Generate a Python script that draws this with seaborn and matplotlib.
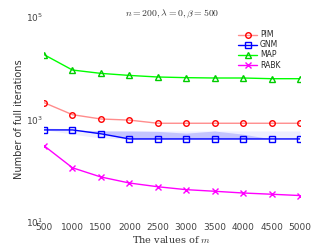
import pandas as pd
import numpy as np
import matplotlib
matplotlib.use('Agg')
import matplotlib.pyplot as plt
import seaborn as sns

# DATA #
m_values = [500, 1000, 1500, 2000, 2500, 3000, 3500, 4000, 4500, 5000]
pim = [2150, 1250, 1030, 980, 850, 850, 850, 850, 850, 850]
gnm = [630, 630, 530, 420, 420, 420, 420, 420, 420, 420]
map_ = [18600, 9300, 8000, 7300, 6800, 6600, 6500, 6500, 6300, 6300]
rabk = [310, 115, 76, 58, 49, 43, 40, 37, 35, 33]
# shaded band around GNM
band_hi = [700, 640, 610, 600, 600, 600, 600, 600, 600, 600]
band_lo = [640, 520, 440, 420, 420, 420, 420, 420, 420, 420]
dark_hi = [630, 630, 600, 600, 590, 545, 600, 520, 420, 420]

sns.set_style('white')
plt.rcParams['font.family'] = ['DejaVu Sans']
plt.rcParams['mathtext.fontset'] = 'cm'

df = pd.DataFrame({'m': m_values * 4,
                   'val': pim + gnm + map_ + rabk,
                   'method': ['PIM'] * 10 + ['GNM'] * 10 + ['MAP'] * 10 + ['RABK'] * 10})

fig = plt.figure(figsize=(3.32, 2.49), dpi=100)
ax = fig.add_axes([0.1325, 0.108, 0.771, 0.823])

# band
ax.fill_between(m_values, band_lo, band_hi, color='#eeeeff', lw=0, zorder=1)
ax.fill_between(m_values, gnm, dark_hi, color='#c4c4ff', lw=0, zorder=1)

palette = {'PIM': '#ff8c8c', 'GNM': '#0000ff', 'MAP': '#00ff00', 'RABK': '#ff00ff'}
markers = {'PIM': 'o', 'GNM': 's', 'MAP': '^', 'RABK': 'x'}
edge = {'PIM': '#ff0000', 'GNM': '#0000ff', 'MAP': '#00cc00', 'RABK': '#ff00ff'}
for name in ['PIM', 'GNM', 'MAP', 'RABK']:
    sub = df[df['method'] == name]
    sns.lineplot(data=sub, x='m', y='val', ax=ax, color=palette[name], lw=1,
                 marker=markers[name], markersize=4, markerfacecolor='none',
                 markeredgecolor=edge[name], markeredgewidth=1, label=name, zorder=3)

ax.set_yscale('log')
ax.set_ylim(10, 1e5)
ax.set_xlim(500, 5000)
ax.set_xticks(m_values)
ax.set_yticks([10, 1e3, 1e5])
ax.minorticks_off()
ax.tick_params(axis='both', labelsize=6.5, colors='#444444', direction='in', length=2, width=0.5, pad=1)
for s in ax.spines.values():
    s.set_visible(False)

ax.set_title(r'$n=200,\lambda=0,\beta=500$', fontsize=7, pad=1, color='#333333')
ax.set_xlabel(r'The values of $m$', fontsize=7, labelpad=1, color='#333333')
ax.xaxis.label.set_fontfamily('DejaVu Serif')
ax.set_ylabel('Number of full iterations', fontsize=7, labelpad=1, color='#333333')

leg = ax.legend(loc='upper right', fontsize=5.5, frameon=False, handlelength=2.6,
                handletextpad=0.3, labelspacing=0.15, bbox_to_anchor=(0.95, 0.97))

fig.savefig('out.png', dpi=100)
